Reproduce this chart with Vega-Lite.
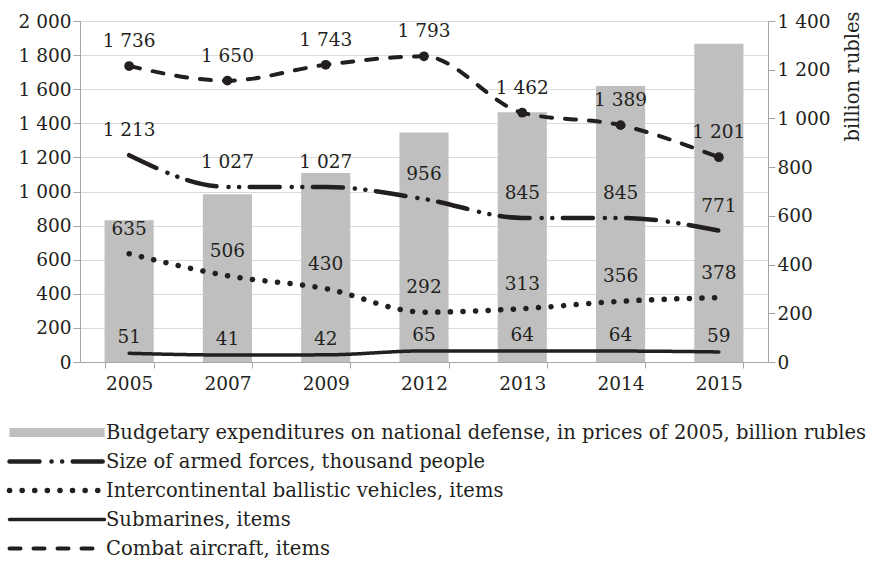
{
  "$schema": "https://vega.github.io/schema/vega-lite/v6.json",
  "autosize": {"type": "none"},
  "width": 688,
  "height": 341,
  "padding": {"left": 80, "top": 21, "right": 108, "bottom": 201},
  "background": "white",
  "config": {
    "locale": {"number": {"decimal": ".", "thousands": " ", "grouping": [3], "currency": ["", ""]}},
    "font": "DejaVu Serif",
    "view": {"stroke": "#a6a6a6"},
    "axis": {
      "labelFont": "DejaVu Serif",
      "labelFontSize": 18.5,
      "labelColor": "#231f20",
      "labelOverlap": false,
      "domainColor": "#a6a6a6",
      "tickColor": "#a6a6a6",
      "tickSize": 7,
      "gridColor": "#d9d9d9",
      "titleFont": "DejaVu Serif",
      "titleFontSize": 19.5,
      "titleFontWeight": "normal",
      "titleColor": "#231f20"
    },
    "legend": {
      "orient": "none",
      "legendX": -75,
      "legendY": 397,
      "direction": "vertical",
      "labelFont": "DejaVu Serif",
      "labelFontSize": 19.5,
      "labelColor": "#231f20",
      "labelLimit": 0,
      "symbolType": "stroke",
      "symbolSize": 9025,
      "clipHeight": 29,
      "rowPadding": 0,
      "padding": 0,
      "symbolOffset": 0,
      "labelOffset": -3
    }
  },
  "datasets": {
    "budget": [
      {"year": "2005", "value": 582, "series": "Budgetary expenditures on national defense, in prices of 2005, billion rubles"},
      {"year": "2007", "value": 689, "series": "Budgetary expenditures on national defense, in prices of 2005, billion rubles"},
      {"year": "2009", "value": 776, "series": "Budgetary expenditures on national defense, in prices of 2005, billion rubles"},
      {"year": "2012", "value": 942, "series": "Budgetary expenditures on national defense, in prices of 2005, billion rubles"},
      {"year": "2013", "value": 1025, "series": "Budgetary expenditures on national defense, in prices of 2005, billion rubles"},
      {"year": "2014", "value": 1133, "series": "Budgetary expenditures on national defense, in prices of 2005, billion rubles"},
      {"year": "2015", "value": 1307, "series": "Budgetary expenditures on national defense, in prices of 2005, billion rubles"}
    ],
    "lines": [
      {"year": "2005", "series": "Size of armed forces, thousand people", "value": 1213},
      {"year": "2007", "series": "Size of armed forces, thousand people", "value": 1027},
      {"year": "2009", "series": "Size of armed forces, thousand people", "value": 1027},
      {"year": "2012", "series": "Size of armed forces, thousand people", "value": 956},
      {"year": "2013", "series": "Size of armed forces, thousand people", "value": 845},
      {"year": "2014", "series": "Size of armed forces, thousand people", "value": 845},
      {"year": "2015", "series": "Size of armed forces, thousand people", "value": 771},
      {"year": "2005", "series": "Intercontinental ballistic vehicles, items", "value": 635},
      {"year": "2007", "series": "Intercontinental ballistic vehicles, items", "value": 506},
      {"year": "2009", "series": "Intercontinental ballistic vehicles, items", "value": 430},
      {"year": "2012", "series": "Intercontinental ballistic vehicles, items", "value": 292},
      {"year": "2013", "series": "Intercontinental ballistic vehicles, items", "value": 313},
      {"year": "2014", "series": "Intercontinental ballistic vehicles, items", "value": 356},
      {"year": "2015", "series": "Intercontinental ballistic vehicles, items", "value": 378},
      {"year": "2005", "series": "Submarines, items", "value": 51},
      {"year": "2007", "series": "Submarines, items", "value": 41},
      {"year": "2009", "series": "Submarines, items", "value": 42},
      {"year": "2012", "series": "Submarines, items", "value": 65},
      {"year": "2013", "series": "Submarines, items", "value": 64},
      {"year": "2014", "series": "Submarines, items", "value": 64},
      {"year": "2015", "series": "Submarines, items", "value": 59},
      {"year": "2005", "series": "Combat aircraft, items", "value": 1736},
      {"year": "2007", "series": "Combat aircraft, items", "value": 1650},
      {"year": "2009", "series": "Combat aircraft, items", "value": 1743},
      {"year": "2012", "series": "Combat aircraft, items", "value": 1793},
      {"year": "2013", "series": "Combat aircraft, items", "value": 1462},
      {"year": "2014", "series": "Combat aircraft, items", "value": 1389},
      {"year": "2015", "series": "Combat aircraft, items", "value": 1201}
    ]
  },
  "layer": [
    {
      "data": {"name": "budget"},
      "mark": {"type": "bar"},
      "encoding": {
        "x": {
          "field": "year", "type": "ordinal", "title": null,
          "scale": {"paddingInner": 0.5, "paddingOuter": 0.25},
          "axis": {"labelAngle": 0, "tickBand": "extent", "tickSize": 6, "labelPadding": 6, "grid": false}
        },
        "y": {
          "field": "value", "type": "quantitative",
          "scale": {"domain": [0, 1400], "nice": false},
          "axis": {
            "orient": "right", "values": [0, 200, 400, 600, 800, 1000, 1200, 1400],
            "grid": false, "title": "billion rubles", "labelPadding": 2,
            "titleAngle": 270, "titleAlign": "right", "titleBaseline": "middle",
            "titleX": 84, "titleY": -10
          }
        },
        "color": {
          "field": "series", "type": "nominal", "title": null,
          "scale": {
            "domain": ["Budgetary expenditures on national defense, in prices of 2005, billion rubles", "Size of armed forces, thousand people", "Intercontinental ballistic vehicles, items", "Submarines, items", "Combat aircraft, items"],
            "range": ["#bfbfbf", "#231f20", "#231f20", "#231f20", "#231f20"]
          }
        }
      }
    },
    {
      "layer": [
        {
          "data": {"name": "lines"},
          "mark": {"type": "line", "interpolate": "monotone", "strokeCap": "round", "strokeJoin": "round"},
          "encoding": {
            "x": {"field": "year", "type": "ordinal", "title": null},
            "y": {
              "field": "value", "type": "quantitative", "title": null,
              "scale": {"domain": [0, 2000], "nice": false},
              "axis": {"orient": "left", "values": [0, 200, 400, 600, 800, 1000, 1200, 1400, 1600, 1800, 2000], "grid": true, "title": null, "labelPadding": 2}
            },
            "color": {
              "field": "series", "type": "nominal", "title": null,
              "scale": {
                "domain": ["Budgetary expenditures on national defense, in prices of 2005, billion rubles", "Size of armed forces, thousand people", "Intercontinental ballistic vehicles, items", "Submarines, items", "Combat aircraft, items"],
                "range": ["#bfbfbf", "#231f20", "#231f20", "#231f20", "#231f20"]
              },
              "legend": {
                "encode": {
                  "symbols": {
                    "update": {
                      "stroke": {"scale": "color", "field": "value"},
                      "strokeCap": [
                        {"test": "indexof(datum.value, 'Budgetary') === 0", "value": "butt"},
                        {"value": "round"}
                      ],
                      "opacity": {"value": 1}
                    }
                  }
                }
              }
            },
            "strokeDash": {
              "field": "series", "type": "nominal", "title": null,
              "scale": {
                "domain": ["Budgetary expenditures on national defense, in prices of 2005, billion rubles", "Size of armed forces, thousand people", "Intercontinental ballistic vehicles, items", "Submarines, items", "Combat aircraft, items"],
                "range": [[1, 0], [30, 12, 0.1, 10.5, 0.1, 10.5], [0.1, 12.5], [1, 0], [11, 13]]
              }
            },
            "strokeWidth": {
              "field": "series", "type": "nominal", "title": null,
              "scale": {
                "type": "ordinal",
                "domain": ["Budgetary expenditures on national defense, in prices of 2005, billion rubles", "Size of armed forces, thousand people", "Intercontinental ballistic vehicles, items", "Submarines, items", "Combat aircraft, items"],
                "range": [9, 4.5, 5.5, 3.5, 4]
              }
            }
          }
        },
        {
          "data": {"name": "lines"},
          "transform": [{"filter": "datum.series === 'Combat aircraft, items'"}],
          "mark": {"type": "circle", "size": 95, "color": "#231f20", "opacity": 1},
          "encoding": {
            "x": {"field": "year", "type": "ordinal", "title": null},
            "y": {
              "field": "value", "type": "quantitative", "title": null,
              "axis": {"orient": "left", "values": [0, 200, 400, 600, 800, 1000, 1200, 1400, 1600, 1800, 2000], "grid": true, "title": null, "labelPadding": 2}
            }
          }
        },
        {
          "data": {"name": "lines"},
          "transform": [{"filter": "datum.series !== 'Submarines, items'"}],
          "mark": {"type": "text", "dy": -25, "fontSize": 18.5, "font": "DejaVu Serif", "color": "#231f20", "baseline": "middle"},
          "encoding": {
            "x": {"field": "year", "type": "ordinal", "title": null},
            "y": {
              "field": "value", "type": "quantitative", "title": null,
              "axis": {"orient": "left", "values": [0, 200, 400, 600, 800, 1000, 1200, 1400, 1600, 1800, 2000], "grid": true, "title": null, "labelPadding": 2}
            },
            "text": {"field": "value", "type": "quantitative", "format": ",d"}
          }
        },
        {
          "data": {"name": "lines"},
          "transform": [{"filter": "datum.series === 'Submarines, items'"}],
          "mark": {"type": "text", "dy": -16, "fontSize": 18.5, "font": "DejaVu Serif", "color": "#231f20", "baseline": "middle"},
          "encoding": {
            "x": {"field": "year", "type": "ordinal", "title": null},
            "y": {
              "field": "value", "type": "quantitative", "title": null,
              "axis": {"orient": "left", "values": [0, 200, 400, 600, 800, 1000, 1200, 1400, 1600, 1800, 2000], "grid": true, "title": null, "labelPadding": 2}
            },
            "text": {"field": "value", "type": "quantitative", "format": ",d"}
          }
        }
      ]
    }
  ],
  "resolve": {"scale": {"y": "independent"}}
}
